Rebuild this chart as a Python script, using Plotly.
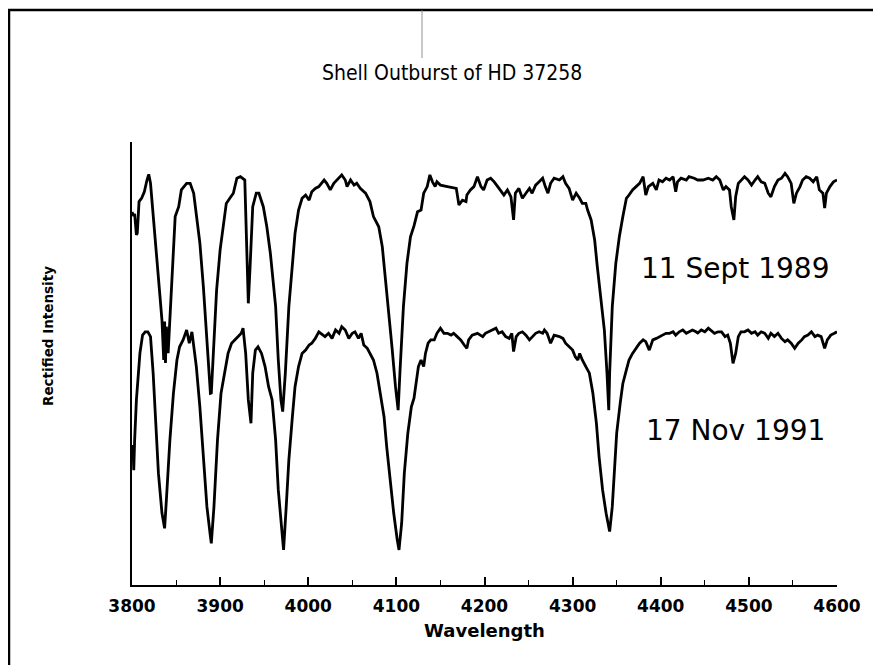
import plotly.graph_objects as go

# ---------------- data ----------------
wl_1989 = [3800, 3802, 3803, 3805, 3806, 3808, 3811, 3814, 3817, 3819, 3821, 3824, 3828, 3831, 3834, 3836, 3837, 3838, 3839, 3841,
           3843, 3846, 3849, 3853, 3856, 3862, 3866, 3870, 3873, 3877, 3881, 3885, 3889, 3890, 3892, 3896, 3900, 3904, 3907, 3911,
           3915, 3919, 3923, 3928, 3930, 3932, 3934, 3937, 3941, 3944, 3949, 3953, 3957, 3959, 3963, 3966, 3969, 3971, 3974, 3978,
           3982, 3985, 3989, 3993, 3997, 4001, 4004, 4008, 4012, 4018, 4021, 4025, 4029, 4033, 4038, 4042, 4044, 4048, 4052, 4055,
           4059, 4065, 4070, 4074, 4080, 4084, 4087, 4091, 4095, 4099, 4102, 4104, 4108, 4112, 4116, 4120, 4124, 4128, 4131, 4135,
           4138, 4141, 4144, 4146, 4150, 4158, 4165, 4168, 4171, 4175, 4179, 4180, 4184, 4188, 4192, 4196, 4199, 4203, 4207, 4211,
           4215, 4218, 4222, 4226, 4230, 4233, 4235, 4239, 4243, 4247, 4251, 4254, 4258, 4262, 4266, 4269, 4272, 4275, 4279, 4285,
           4289, 4292, 4296, 4300, 4304, 4308, 4311, 4315, 4317, 4321, 4325, 4328, 4332, 4336, 4339, 4341, 4342, 4345, 4349, 4353,
           4357, 4361, 4364, 4368, 4372, 4376, 4380, 4383, 4386, 4391, 4395, 4398, 4402, 4406, 4410, 4414, 4417, 4419, 4423, 4429,
           4432, 4438, 4442, 4448, 4454, 4459, 4463, 4467, 4471, 4474, 4478, 4480, 4483, 4485, 4488, 4491, 4495, 4499, 4503, 4507,
           4510, 4514, 4518, 4522, 4525, 4529, 4533, 4537, 4541, 4544, 4548, 4551, 4554, 4558, 4561, 4565, 4569, 4573, 4577, 4580,
           4584, 4586, 4588, 4592, 4596, 4600]
int_1989 = [0.893, 0.880, 0.887, 0.817, 0.823, 0.928, 0.940, 0.961, 1.000, 1.019, 0.989, 0.878, 0.757, 0.633, 0.533, 0.400, 0.528, 0.390, 0.511, 0.423,
            0.533, 0.711, 0.878, 0.911, 0.967, 0.989, 0.989, 0.956, 0.890, 0.790, 0.644, 0.467, 0.289, 0.290, 0.411, 0.633, 0.767, 0.856, 0.922, 0.939,
            0.956, 1.006, 1.011, 1.000, 0.800, 0.589, 0.711, 0.911, 0.956, 0.956, 0.911, 0.844, 0.756, 0.700, 0.578, 0.400, 0.267, 0.228, 0.356, 0.578,
            0.711, 0.822, 0.900, 0.939, 0.950, 0.933, 0.961, 0.972, 0.978, 1.000, 0.989, 0.967, 0.989, 1.000, 1.017, 1.000, 0.978, 1.000, 0.983, 0.989,
            0.972, 0.956, 0.928, 0.878, 0.844, 0.778, 0.689, 0.578, 0.444, 0.311, 0.233, 0.356, 0.578, 0.722, 0.811, 0.847, 0.894, 0.900, 0.956, 0.978,
            1.017, 0.994, 0.978, 0.994, 0.983, 0.978, 0.972, 0.972, 0.917, 0.933, 0.928, 0.950, 0.967, 0.978, 1.011, 0.978, 0.967, 1.000, 1.006, 0.994,
            0.978, 0.967, 0.950, 0.967, 0.944, 0.867, 0.956, 0.972, 0.939, 0.956, 0.972, 0.956, 0.983, 0.994, 1.006, 0.978, 0.956, 0.989, 1.006, 1.000,
            1.011, 0.989, 0.972, 0.933, 0.956, 0.939, 0.922, 0.922, 0.900, 0.867, 0.800, 0.711, 0.611, 0.500, 0.356, 0.233, 0.356, 0.578, 0.722, 0.811,
            0.878, 0.939, 0.950, 0.967, 0.978, 0.989, 1.011, 0.950, 0.978, 0.989, 0.967, 1.000, 0.994, 1.006, 1.000, 1.011, 0.961, 0.994, 1.006, 1.000,
            1.011, 1.006, 1.000, 1.000, 1.006, 1.000, 1.011, 1.000, 0.967, 0.978, 0.967, 0.911, 0.867, 0.944, 0.989, 1.000, 1.011, 1.000, 0.983, 1.000,
            1.011, 0.994, 0.989, 0.956, 0.944, 0.978, 1.000, 1.006, 1.022, 1.011, 0.989, 0.922, 0.956, 0.978, 1.000, 1.011, 1.006, 0.994, 1.011, 0.967,
            0.956, 0.906, 0.956, 0.978, 0.994, 1.000]

wl_1991 = [3801, 3802, 3803, 3805, 3809, 3812, 3815, 3818, 3821, 3824, 3827, 3830, 3834, 3837, 3839, 3843, 3847, 3851, 3854, 3858,
           3862, 3865, 3868, 3870, 3873, 3877, 3881, 3885, 3889, 3890, 3893, 3897, 3901, 3906, 3909, 3913, 3917, 3921, 3924, 3926,
           3929, 3932, 3935, 3937, 3940, 3943, 3947, 3951, 3955, 3959, 3963, 3966, 3970, 3972, 3975, 3978, 3982, 3985, 3989, 3993,
           3997, 4001, 4004, 4008, 4012, 4016, 4019, 4023, 4027, 4031, 4035, 4038, 4042, 4046, 4050, 4053, 4057, 4060, 4063, 4067,
           4070, 4074, 4078, 4082, 4086, 4089, 4093, 4097, 4101, 4103, 4106, 4109, 4113, 4117, 4120, 4122, 4125, 4128, 4131, 4133,
           4136, 4139, 4143, 4146, 4150, 4154, 4158, 4162, 4165, 4169, 4173, 4177, 4180, 4182, 4186, 4192, 4198, 4201, 4205, 4209,
           4213, 4216, 4220, 4224, 4228, 4231, 4233, 4236, 4239, 4243, 4247, 4251, 4254, 4258, 4262, 4266, 4268, 4271, 4275, 4279,
           4285, 4289, 4292, 4296, 4300, 4303, 4306, 4308, 4311, 4315, 4319, 4323, 4327, 4330, 4334, 4338, 4342, 4345, 4347, 4350,
           4354, 4357, 4361, 4364, 4368, 4372, 4376, 4380, 4383, 4387, 4391, 4395, 4398, 4402, 4406, 4410, 4414, 4417, 4421, 4425,
           4429, 4432, 4436, 4440, 4442, 4446, 4450, 4454, 4457, 4461, 4465, 4469, 4473, 4476, 4479, 4482, 4485, 4488, 4491, 4495,
           4499, 4503, 4507, 4510, 4514, 4518, 4522, 4525, 4529, 4533, 4537, 4541, 4544, 4548, 4552, 4556, 4560, 4563, 4567, 4571,
           4575, 4578, 4582, 4586, 4589, 4593, 4597, 4600]
int_1991 = [0.617, 0.533, 0.633, 0.767, 0.923, 0.983, 0.994, 0.994, 0.978, 0.856, 0.689, 0.522, 0.390, 0.339, 0.433, 0.633, 0.789, 0.900, 0.944, 0.967,
            1.000, 0.956, 0.994, 0.944, 0.878, 0.744, 0.578, 0.411, 0.311, 0.289, 0.411, 0.633, 0.789, 0.878, 0.922, 0.956, 0.967, 0.978, 0.989, 1.006,
            0.922, 0.767, 0.689, 0.856, 0.933, 0.944, 0.922, 0.878, 0.811, 0.767, 0.633, 0.467, 0.323, 0.267, 0.411, 0.567, 0.711, 0.811, 0.878, 0.922,
            0.933, 0.950, 0.956, 0.972, 0.994, 0.983, 0.978, 0.989, 0.972, 1.000, 0.989, 1.011, 1.000, 0.972, 0.989, 0.994, 0.972, 0.989, 0.950, 0.939,
            0.922, 0.900, 0.856, 0.789, 0.711, 0.611, 0.489, 0.389, 0.300, 0.267, 0.356, 0.522, 0.656, 0.744, 0.773, 0.822, 0.878, 0.900, 0.878, 0.922,
            0.956, 0.967, 0.967, 0.989, 1.006, 0.989, 0.989, 0.983, 0.989, 0.978, 0.967, 0.950, 0.939, 0.967, 0.983, 0.989, 0.978, 0.989, 0.994, 1.000,
            1.006, 0.989, 0.994, 0.978, 0.972, 0.989, 0.928, 0.978, 0.989, 0.994, 0.983, 0.967, 0.978, 0.989, 0.994, 0.989, 1.000, 0.989, 0.956, 0.983,
            0.978, 0.972, 0.956, 0.944, 0.933, 0.911, 0.900, 0.922, 0.900, 0.878, 0.856, 0.789, 0.689, 0.578, 0.467, 0.389, 0.328, 0.411, 0.522, 0.656,
            0.756, 0.822, 0.867, 0.900, 0.922, 0.939, 0.956, 0.967, 0.961, 0.933, 0.967, 0.972, 0.978, 0.983, 0.989, 0.989, 0.994, 0.983, 0.994, 1.000,
            0.989, 0.994, 1.000, 0.994, 0.990, 1.000, 0.994, 1.006, 1.000, 0.989, 0.994, 0.994, 0.978, 0.983, 0.956, 0.889, 0.922, 0.978, 0.994, 0.994,
            1.000, 0.989, 0.994, 0.983, 0.994, 0.989, 0.972, 0.989, 0.978, 0.989, 0.972, 0.961, 0.967, 0.956, 0.939, 0.956, 0.967, 0.978, 0.983, 0.994,
            0.978, 0.983, 0.978, 0.939, 0.967, 0.983, 0.989, 0.994]

x_ticks = [3800, 3900, 4000, 4100, 4200, 4300, 4400, 4500, 4600]
x_tick_labels = ["3800", "3900", "4000", "4100", "4200", "4300", "4400", "4500", "4600"]
OFFSET_1989 = 0.5          # vertical shift of the 1989 spectrum above the 1991 one

title_text = "Shell Outburst of HD 37258"
label_1989 = "11 Sept 1989"
label_1991 = "17 Nov 1991"

# ---------------- figure ----------------
fig = go.Figure()
fig.add_trace(go.Scatter(x=wl_1989, y=[v + OFFSET_1989 for v in int_1989], mode="lines",
                         line=dict(color="black", width=2.8), showlegend=False))
fig.add_trace(go.Scatter(x=wl_1991, y=int_1991, mode="lines",
                         line=dict(color="black", width=2.8), showlegend=False))

PAGE = 8                      # browser body margin around the figure
W, H = 881 - PAGE, 665 - PAGE
PL, PR, PT, PB = 132, 837, 142, 585   # plot box in page pixels
L, T = PL - PAGE, PT - PAGE
R = W - (PR - PAGE)
B = H - (PB - PAGE)
pw, ph = W - L - R, H - T - B


def px(xp):
    return (xp - PAGE - L) / pw


def py(yp):
    return (H - B - (yp - PAGE)) / ph


fig.update_layout(
    width=W, height=H,
    margin=dict(l=L, r=R, t=T, b=B, pad=0),
    paper_bgcolor="white", plot_bgcolor="white",
    xaxis=dict(range=[3800, 4600], tickmode="array", tickvals=x_ticks, ticktext=x_tick_labels,
               ticks="inside", ticklen=8, tickwidth=1.6, tickcolor="black", ticklabelstandoff=4,
               minor=dict(dtick=50, tick0=3850, ticks="inside", ticklen=5, tickwidth=1.4, tickcolor="black"),
               showline=True, linecolor="black", linewidth=2.2, showgrid=False, zeroline=False,
               tickfont=dict(family="DejaVu Sans", size=17, color="black", weight="bold"),
               title=dict(text="Wavelength", standoff=10,
                          font=dict(family="DejaVu Sans", size=18, color="black", weight="bold"))),
    yaxis=dict(range=[0.15, 1.6267], showticklabels=False, ticks="", showline=True,
               linecolor="black", linewidth=2.2, showgrid=False, zeroline=False),
    font=dict(family="DejaVu Sans", color="black"),
)

annotations = [
    dict(text=title_text, x=px(452), y=py(73), xref="paper", yref="paper", showarrow=False,
         xanchor="center", yanchor="middle",
         font=dict(family="Liberation Sans Narrow, DejaVu Sans Condensed, sans-serif", size=21, color="black")),
    dict(text="Rectified Intensity", x=px(48), y=py(336), xref="paper", yref="paper", showarrow=False,
         xanchor="center", yanchor="middle", textangle=-90,
         font=dict(family="DejaVu Sans", size=13.5, color="black", weight="bold")),
    dict(text=label_1989, x=px(735), y=py(268), xref="paper", yref="paper", showarrow=False,
         xanchor="center", yanchor="middle",
         font=dict(family="DejaVu Sans", size=28, color="black")),
    dict(text=label_1991, x=px(735), y=py(430), xref="paper", yref="paper", showarrow=False,
         xanchor="center", yanchor="middle",
         font=dict(family="DejaVu Sans", size=28, color="black")),
]
fig.update_layout(annotations=annotations)

# page frame of the scanned figure
fig.add_shape(type="line", xref="paper", yref="paper", x0=px(9), x1=px(9), y0=py(10), y1=py(680),
              line=dict(color="black", width=2.5))
fig.add_shape(type="line", xref="paper", yref="paper", x0=px(8), x1=px(900), y0=py(10), y1=py(10),
              line=dict(color="black", width=2.5))
fig.add_shape(type="line", xref="paper", yref="paper", x0=px(422), x1=px(422), y0=py(10), y1=py(58),
              line=dict(color="#777777", width=0.8))

fig.write_html("out.html")
